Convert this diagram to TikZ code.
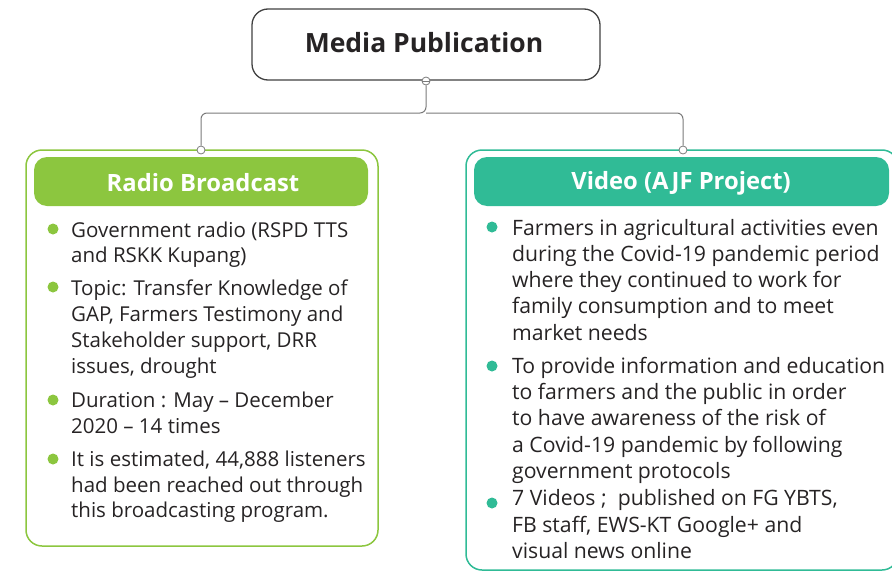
\documentclass[tikz,border=0pt]{standalone}
\usepackage{fontspec}
\setmainfont{Open Sans}
\definecolor{lgreen}{HTML}{8CC63F}
\definecolor{teal}{HTML}{30BB96}
\definecolor{txt}{HTML}{262324}
\definecolor{conngray}{HTML}{7A7A7A}
\tikzset{
  body/.style={font=\fontsize{20.5}{25}\selectfont, text=txt, inner sep=0pt, anchor=base west},
  bodyr/.style={font=\fontsize{21.2}{25}\selectfont, text=txt, inner sep=0pt, anchor=base west},
  hdr/.style={font=\fontsize{23.8}{28}\selectfont\bfseries, text=white, inner sep=0pt},
  conn/.style={draw=conngray, line width=1pt},
  knob/.style={circle, draw=conngray, fill=white, line width=0.8pt, minimum size=8pt, inner sep=0pt},
  gdot/.style={circle, fill=lgreen, minimum size=11pt, inner sep=0pt},
  tdot/.style={circle, fill=teal, minimum size=11pt, inner sep=0pt},
}
\begin{document}
\begin{tikzpicture}[x=1pt,y=-1pt]
\useasboundingbox (0,0) rectangle (892,573);
\clip (0,0) rectangle (892,573);
% top box
\draw[line width=1.3pt, draw=black!75, rounded corners=16] (252,9) rectangle (600,80);
\node[font=\fontsize{26.5}{30}\selectfont\bfseries, text=txt, inner sep=0pt] (title) at (424,43) {Media Publication};
% outer boxes
\draw[lgreen, line width=1.5pt, rounded corners=16] (26,150) rectangle (378,546);
\draw[teal, line width=1.5pt, rounded corners=16] (466,150) rectangle (898,570);
% headers
\fill[lgreen, rounded corners=13] (34,157) rectangle (368,206);
\fill[teal, rounded corners=13] (474,157) rectangle (889,206);
\node[hdr] (h1) at (203,183) {Radio Broadcast};
\node[hdr] (h2) at (681,183) {Video (AJF Project)};
% connectors
\coordinate (mid) at (426,113);
\node[knob] (k0) at (426,81) {};
\node[knob] (k1) at (201,150) {};
\node[knob] (k2) at (683,150) {};
\draw[conn, rounded corners=6] (k0.south) -- (mid) -| (k1.north);
\draw[conn, rounded corners=6] (mid) -| (k2.north);
\draw[conngray, line width=0.8pt] (k0.west) -- (k0.east);
% left bullets
\node[gdot] (d1) at (53,229) {};
\node[gdot] (d2) at (53,287) {};
\node[gdot] (d3) at (53,400) {};
\node[gdot] (d4) at (53,459) {};
\node[body] (l1) at (71,237) {Government radio (RSPD TTS};
\node[body] (l2) at (71,262) {and RSKK Kupang)};
\node[body] (l3) at (71,295) {Topic: Transfer Knowledge of};
\node[body] (l4) at (71,321) {GAP, Farmers Testimony and};
\node[body] (l5) at (71,347) {Stakeholder support, DRR};
\node[body] (l6) at (71,373) {issues, drought};
\node[body] (l7) at (71,407) {Duration : May – December};
\node[body] (l8) at (71,433) {2020 – 14 times};
\node[body] (l9) at (71,466) {It is estimated, 44,888 listeners};
\node[body] (l10) at (71,492) {had been reached out through};
\node[body] (l11) at (71,517) {this broadcasting program.};
% right bullets
\node[tdot] (e1) at (492,227) {};
\node[tdot] (e2) at (492,366) {};
\node[tdot] (e3) at (492,503) {};
\node[bodyr] (r1) at (512,235) {Farmers in agricultural activities even};
\node[bodyr] (r2) at (512,261) {during the Covid-19 pandemic period};
\node[bodyr] (r3) at (512,287) {where they continued to work for};
\node[bodyr] (r4) at (512,313) {family consumption and to meet};
\node[bodyr] (r5) at (512,340) {market needs};
\node[bodyr] (r6) at (512,373) {To provide information and education};
\node[bodyr] (r7) at (512,399) {to farmers and the public in order};
\node[bodyr] (r8) at (512,425) {to have awareness of the risk of};
\node[bodyr] (r9) at (512,452) {a Covid-19 pandemic by following};
\node[bodyr] (r10) at (512,478) {government protocols};
\node[bodyr] (r11) at (512,505) {7 Videos ;\ \ published on FG YBTS,};
\node[bodyr] (r12) at (512,532) {FB staff, EWS-KT Google+ and};
\node[bodyr] (r13) at (512,558) {visual news online};
\end{tikzpicture}
\end{document}
